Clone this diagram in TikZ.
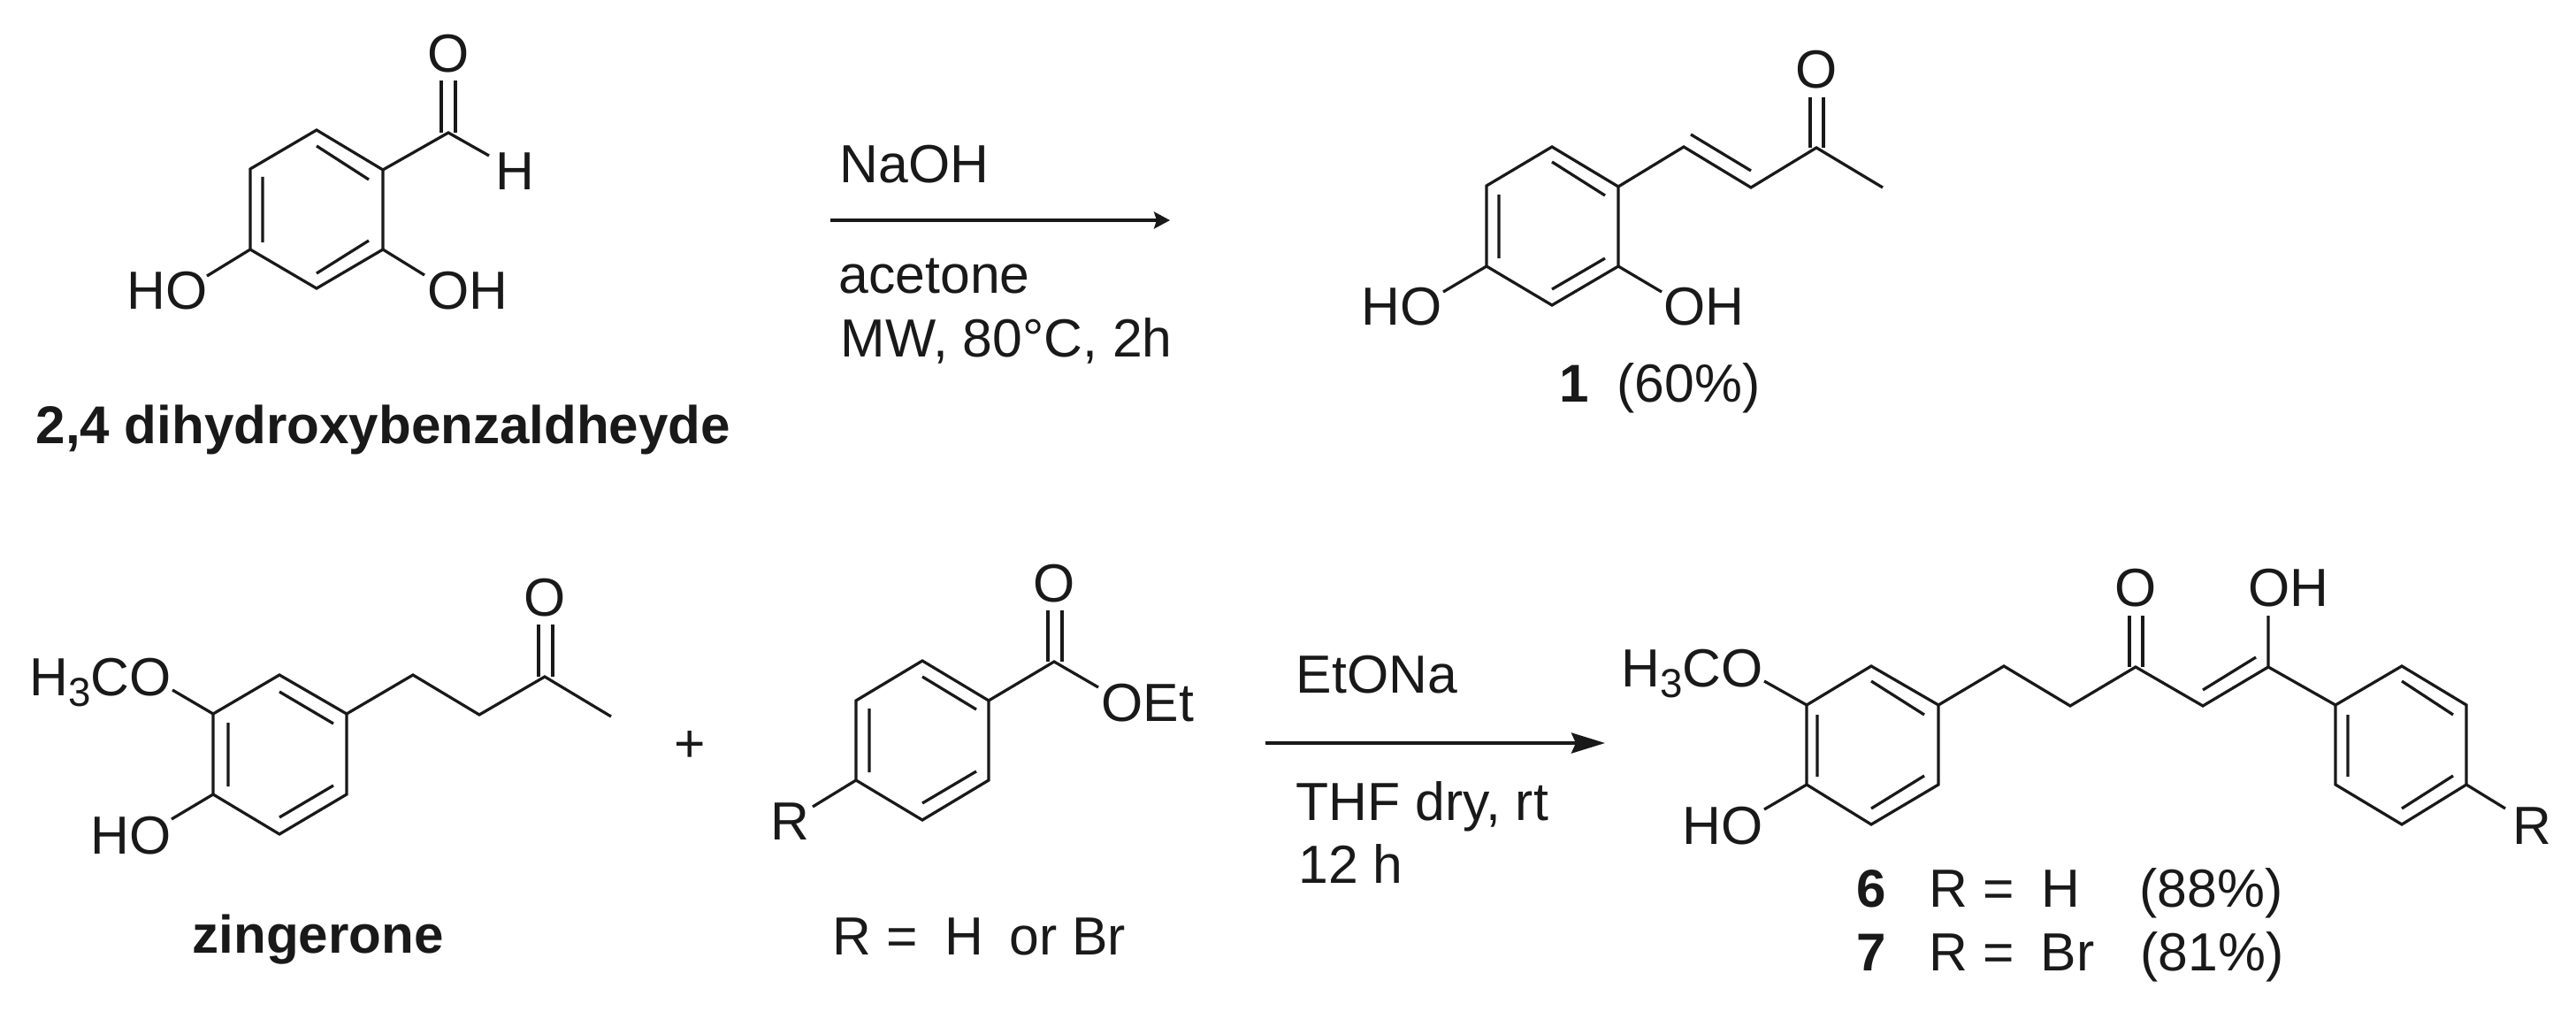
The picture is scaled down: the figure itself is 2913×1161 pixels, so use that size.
\documentclass[tikz,border=0pt]{standalone}
\usepackage{fontspec}
\setmainfont{Liberation Sans}
\usetikzlibrary{arrows.meta}
\newcommand{\subthree}{\raisebox{-0.21em}{\fontsize{13}{13}\selectfont 3}}
\tikzset{
  bond/.style={line width=0.92pt,draw=black!90,line join=miter,line cap=butt},
  chem/.style={inner sep=0pt,anchor=base west,text=black!90,font=\fontsize{17.25}{20}\selectfont},
  boldchem/.style={chem,font=\fontsize{17.1}{20}\selectfont\bfseries},
  atomc/.style={chem,anchor=base},
  rxnone/.style={bond,-{Stealth[length=0.18cm,width=0.19cm,inset=0.03cm]}},
  rxntwo/.style={line width=1.15pt,draw=black!90,-{Stealth[length=0.38cm,width=0.23cm,inset=0.05cm]}}
}
\begin{document}
\begin{tikzpicture}[x=0.01cm,y=-0.01cm]
\useasboundingbox (0,0) rectangle (2913,1161);
\fill[white] (0,0) rectangle (2913,1161);

% --- 2,4-dihydroxybenzaldehyde
\coordinate (a1) at (358,147); \coordinate (a2) at (433,192); \coordinate (a3) at (433,282);
\coordinate (a4) at (358,326); \coordinate (a5) at (283,282); \coordinate (a6) at (283,191);
\coordinate (ac) at (507,150); \coordinate (ahe) at (553,176);
\coordinate (ahoe) at (234,312); \coordinate (aohe) at (480,311);
\draw[bond] (a1)--(a2)--(a3)--(a4)--(a5)--(a6)--cycle;
\draw[bond] (358,165)--(417,203) (297,200)--(297,274) (358,309)--(417,272);
\draw[bond] (a2)--(ac)--(ahe) (a5)--(ahoe) (a3)--(aohe);
\draw[bond] (499,91)--(499,150) (515,91)--(515,150);
\node[atomc] (aO) at (507,82) {O};
\node[atomc] (aH) at (582,215) {H};
\node[chem] (aHO) at (143,350) {HO};
\node[chem] (aOH) at (483,350) {OH};
\node[boldchem] (aname) at (40,501) {2,4 dihydroxybenzaldheyde};

% --- first arrow
\coordinate (r1s) at (939,249); \coordinate (r1e) at (1323,249);
\draw[rxnone] (r1s)--(r1e);
\node[chem] (r1a) at (949,207) {NaOH};
\node[chem] (r1b) at (948,331) {acetone};
\node[chem] (r1c) at (950,403) {MW, 80°C, 2h};

% --- product 1
\coordinate (b1) at (1755,166); \coordinate (b2) at (1830,211); \coordinate (b3) at (1830,301);
\coordinate (b4) at (1755,345); \coordinate (b5) at (1681,301); \coordinate (b6) at (1681,210);
\coordinate (b7) at (1904,166); \coordinate (b8) at (1980,212); \coordinate (b9) at (2054,167);
\coordinate (b10) at (2129,212); \coordinate (bhoe) at (1632,330); \coordinate (bohe) at (1879,330);
\draw[bond] (b1)--(b2)--(b3)--(b4)--(b5)--(b6)--cycle;
\draw[bond] (1755,183)--(1815,221) (1695,220)--(1695,292) (1755,327)--(1815,292);
\draw[bond] (b2)--(b7)--(b8)--(b9)--(b10) (b5)--(bhoe) (b3)--(bohe);
\draw[bond] (1912,152)--(1980,193);
\draw[bond] (2047,110)--(2047,167) (2062,110)--(2062,167);
\node[atomc] (bO) at (2054,100) {O};
\node[chem] (bHO) at (1539,368) {HO};
\node[chem] (bOH) at (1881,368) {OH};
\node[boldchem] (bn) at (1763,455) {1};
\node[chem] (by) at (1828,455) {(60\%)};

% --- zingerone
\coordinate (c1) at (316,763); \coordinate (c2) at (392,807); \coordinate (c3) at (392,898);
\coordinate (c4) at (316,943); \coordinate (c5) at (241,898); \coordinate (c6) at (241,807);
\coordinate (c7) at (467,763); \coordinate (c8) at (542,808); \coordinate (c9) at (616,765);
\coordinate (c10) at (691,810); \coordinate (cmeo) at (195,780); \coordinate (choe) at (194,926);
\draw[bond] (c1)--(c2)--(c3)--(c4)--(c5)--(c6)--cycle;
\draw[bond] (316,782)--(377,818) (258,817)--(258,889) (316,924)--(377,888);
\draw[bond] (c2)--(c7)--(c8)--(c9)--(c10) (c6)--(cmeo) (c5)--(choe);
\draw[bond] (609,706)--(609,765) (625,706)--(625,765);
\node[atomc] (cO) at (616,696) {O};
\node[chem] (cMeO) at (33,786) {H\subthree CO};
\node[chem] (cHO) at (102,965) {HO};
\node[boldchem] (cname) at (217,1077) {zingerone};
\node[atomc] (plus) at (780,861) {+};

% --- ester
\coordinate (d1) at (1043,747); \coordinate (d2) at (1118,792); \coordinate (d3) at (1118,882);
\coordinate (d4) at (1043,927); \coordinate (d5) at (968,882); \coordinate (d6) at (968,792);
\coordinate (dc) at (1192,748); \coordinate (doe) at (1242,777); \coordinate (dre) at (919,912);
\draw[bond] (d1)--(d2)--(d3)--(d4)--(d5)--(d6)--cycle;
\draw[bond] (1043,765)--(1104,802) (983,801)--(983,873) (1043,908)--(1104,872);
\draw[bond] (d2)--(dc)--(doe) (d5)--(dre);
\draw[bond] (1185,690)--(1185,748) (1201,690)--(1201,748);
\node[atomc] (dO) at (1192,680) {O};
\node[chem] (dOEt) at (1245,815) {OEt};
\node[chem] (dR) at (871,949) {R};
\node[chem] (dname) at (941,1079) {R =};
\node[chem] (dname2) at (1068,1079) {H};
\node[chem] (dname3) at (1141,1079) {or Br};

% --- second arrow
\coordinate (r2s) at (1431,840); \coordinate (r2e) at (1815,840);
\draw[rxntwo] (r2s)--(r2e);
\node[chem] (r2a) at (1465,783) {EtONa};
\node[chem] (r2b) at (1465,927) {THF dry, rt};
\node[chem] (r2c) at (1468,998) {12 h};

% --- products 6 and 7
\coordinate (e1) at (2116,753); \coordinate (e2) at (2192,797); \coordinate (e3) at (2192,887);
\coordinate (e4) at (2116,932); \coordinate (e5) at (2043,887); \coordinate (e6) at (2043,797);
\coordinate (e7) at (2266,753); \coordinate (e8) at (2341,798); \coordinate (e9) at (2415,754);
\coordinate (e10) at (2491,798); \coordinate (e11) at (2565,754);
\coordinate (f1) at (2716,753); \coordinate (f2) at (2789,797); \coordinate (f3) at (2789,887);
\coordinate (f4) at (2716,932); \coordinate (f5) at (2641,887); \coordinate (f6) at (2641,797);
\coordinate (emeo) at (1995,770); \coordinate (ehoe) at (1995,915); \coordinate (ere) at (2833,914);
\coordinate (eohe) at (2565,696);
\draw[bond] (e1)--(e2)--(e3)--(e4)--(e5)--(e6)--cycle;
\draw[bond] (2116,770)--(2176,808) (2055,808)--(2055,878) (2116,914)--(2176,877);
\draw[bond] (f1)--(f2)--(f3)--(f4)--(f5)--(f6)--cycle;
\draw[bond] (2716,770)--(2774,808) (2655,808)--(2655,878) (2716,914)--(2774,877);
\draw[bond] (e2)--(e7)--(e8)--(e9)--(e10)--(e11)--(f6) (e6)--(emeo) (e5)--(ehoe) (f3)--(ere) (e11)--(eohe);
\draw[bond] (2491,780)--(2551,743);
\draw[bond] (2408,696)--(2408,754) (2423,696)--(2423,754);
\node[atomc] (eO) at (2415,685) {O};
\node[chem] (eOH) at (2542,685) {OH};
\node[chem] (eMeO) at (1833,776) {H\subthree CO};
\node[chem] (eHO) at (1902,954) {HO};
\node[chem] (eR) at (2841,954) {R};
\node[boldchem] (e6n) at (2099,1025) {6};
\node[chem] (e6r) at (2181,1025) {R =};
\node[chem] (e6h) at (2308,1025) {H};
\node[chem] (e6y) at (2419,1025) {(88\%)};
\node[boldchem] (e7n) at (2099,1097) {7};
\node[chem] (e7r) at (2181,1097) {R =};
\node[chem] (e7h) at (2307,1097) {Br};
\node[chem] (e7y) at (2420,1097) {(81\%)};
\end{tikzpicture}
\end{document}
